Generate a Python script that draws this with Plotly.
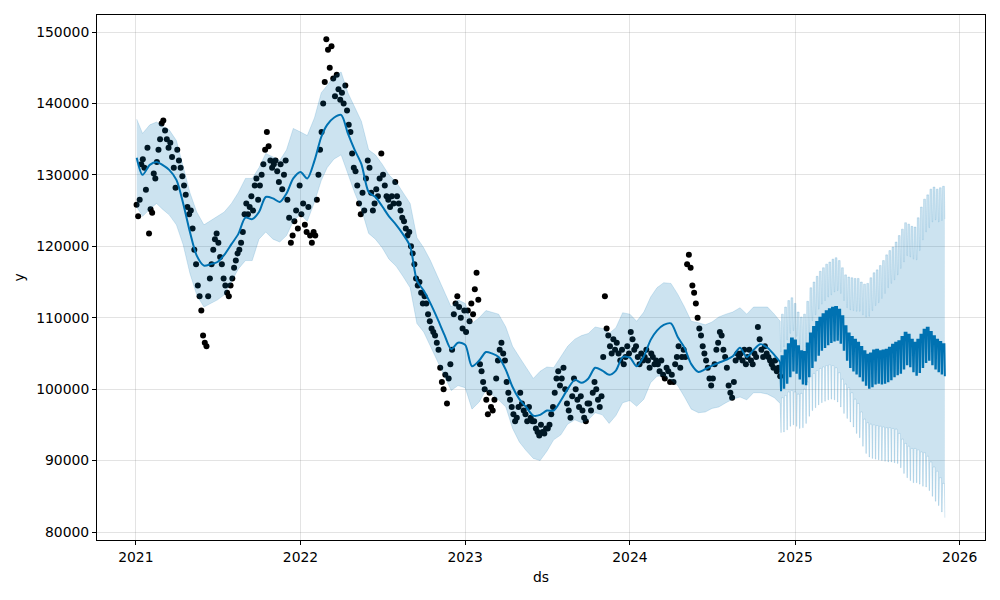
import pandas as pd
import plotly.graph_objects as go

# ---------------- observations (thousands), grouped by month ----------------
obs_2021 = [
    [125.8, 124.2, 126.5, 131.5, 132.2, 131.0, 127.9, 133.8, 121.8],
    [125.2, 124.7, 130.2, 129.5, 131.8, 133.5, 135.0, 137.2],
    [137.6, 136.2, 135.0, 133.8, 134.5, 132.5, 131.0, 128.2],
    [133.5, 132.0, 131.0, 129.8, 128.5, 127.2, 125.5, 124.5],
    [125.0, 122.5, 119.5, 117.5, 114.5, 113.0, 111.0, 107.5],
    [106.5, 106.0, 113.0, 115.5, 117.5, 119.5, 121.0, 121.8],
    [120.5, 118.5, 117.5, 115.5, 114.5, 113.5, 113.0, 114.5],
    [115.5, 117.0, 118.0, 119.0, 119.5, 120.5, 122.0, 124.5],
    [126.0, 124.5, 125.5, 127.0, 125.0, 128.5, 129.5, 126.5],
    [128.5, 130.0, 131.5, 133.5, 136.0, 134.0, 132.0, 131.0],
    [131.5, 132.0, 130.5, 129.0, 131.5, 128.0, 130.0, 132.0],
    [126.5, 124.0, 120.5, 121.5, 123.5, 125.0, 122.5, 128.5],
]
obs_2022 = [
    [124.5, 126.0, 123.0, 122.0, 125.5, 121.5, 120.5, 122.0],
    [121.5, 126.5, 130.0, 133.5, 136.0, 140.0, 143.0, 149.0],
    [147.5, 145.0, 148.0, 143.5, 141.0, 144.0, 142.0, 140.5],
    [141.5, 140.0, 142.5, 139.0, 137.0, 136.0, 133.0, 131.0],
    [130.5, 128.5, 126.0, 124.5, 127.5, 125.0, 129.5, 132.0],
    [131.0, 127.5, 125.0, 126.0, 128.0, 127.0, 129.5, 133.0],
    [130.0, 128.5, 127.0, 126.5, 125.5, 127.0, 126.0, 129.0],
    [127.0, 126.0, 125.0, 124.0, 123.5, 122.5, 121.5, 122.0],
    [120.0, 119.0, 117.5, 115.5, 114.5, 115.0, 113.5, 112.0],
    [113.0, 112.0, 110.5, 109.5, 108.5, 108.0, 107.5, 106.5],
    [105.5, 103.0, 101.0, 100.0, 102.0, 98.0, 101.5, 103.5],
    [105.5, 110.5, 112.0, 113.0, 111.5, 110.0, 108.5, 111.0],
]
obs_2023 = [
    [108.0, 111.0, 109.5, 112.0, 110.5, 114.0, 116.3, 112.5],
    [103.5, 102.5, 101.0, 100.0, 98.5, 96.5, 99.5, 97.5],
    [97.0, 98.5, 101.5, 104.0, 105.5, 106.5, 105.0, 104.0],
    [101.0, 99.5, 98.5, 97.5, 96.5, 95.5, 96.0, 97.5],
    [99.5, 98.0, 97.0, 96.5, 95.5, 97.5, 96.0, 95.5],
    [95.5, 94.5, 94.0, 93.5, 95.0, 94.0, 93.8, 94.5],
    [94.5, 95.0, 96.5, 97.5, 99.5, 101.5, 102.5, 100.5],
    [101.5, 103.0, 100.0, 98.0, 97.0, 96.0, 99.0, 101.5],
    [100.0, 98.5, 97.5, 99.0, 97.0, 96.0, 95.5, 98.0],
    [98.0, 97.0, 99.5, 101.0, 100.0, 98.5, 97.5, 99.0],
    [104.5, 113.0, 108.5, 107.5, 106.0, 105.0, 107.0, 105.5],
    [106.5, 105.0, 104.0, 105.5, 103.5, 104.5, 106.0, 105.0],
]
obs_2024 = [
    [108.0, 107.0, 105.5, 106.0, 104.5, 103.5, 105.0, 104.0],
    [104.5, 105.5, 104.0, 103.0, 105.0, 104.5, 103.5, 104.0],
    [103.5, 102.5, 104.0, 102.0, 101.5, 103.0, 102.5, 101.0],
    [102.0, 101.0, 103.5, 104.5, 106.0, 103.0, 104.5, 105.5],
    [104.5, 117.5, 118.8, 117.0, 114.5, 113.5, 112.0, 110.0],
    [108.5, 107.5, 106.0, 105.0, 104.0, 103.0, 101.5, 100.5],
    [101.5, 103.5, 105.5, 106.5, 108.0, 107.5, 105.5, 104.5],
    [103.0, 100.5, 99.5, 98.8, 101.0, 104.0, 105.0, 104.5],
    [105.0, 104.0, 105.5, 103.5, 104.5, 105.5, 104.0, 103.5],
    [105.0, 104.5, 108.7, 107.0, 105.5, 104.5, 106.0, 105.0],
    [104.5, 104.0, 103.5, 103.0, 104.0, 102.5, 103.0, 101.8],
]

# ---------------- fitted values over history (1st & 16th of each month) -----
hist_yhat_k = [
    132.4, 130.0, 131.4, 131.8, 131.4, 130.7, 129.3, 126.0, 122.0, 118.7, 117.3, 117.5,
    117.8, 118.8, 120.3, 121.7, 124.0, 123.8, 124.8, 126.9, 126.7, 126.2, 127.4, 129.5,
    130.4, 129.5, 132.0, 135.3, 137.0, 138.0, 138.4, 135.8, 133.5, 131.5, 127.6, 126.9,
    125.6, 124.2, 123.0, 121.7, 120.0, 115.2, 113.8, 112.0, 109.8, 107.6, 105.6, 106.5,
    106.2, 103.2, 104.0, 105.2, 105.0, 104.5, 102.7, 100.3, 98.6, 97.5, 96.3, 96.4,
    97.0, 97.0, 98.4, 100.0, 101.3, 100.9, 101.5, 103.0, 102.6, 102.0, 102.6, 104.5,
    104.4, 103.2, 104.6, 106.9, 108.2, 109.0, 109.2, 107.3, 105.8, 103.5, 102.4, 102.8,
    103.3, 103.7, 104.1, 104.6, 105.8, 104.5, 105.5, 106.3, 105.8, 104.8, 103.8,
]
hist_upper_k = [
    137.8, 135.8, 137.0, 137.4, 136.8, 136.3, 134.8, 131.3, 127.5, 124.8, 123.0, 123.6,
    124.2, 124.8, 126.0, 127.5, 129.5, 129.5, 131.0, 133.0, 132.5, 132.0, 133.5, 136.5,
    136.0, 135.5, 138.0, 141.5, 142.5, 143.8, 144.4, 141.5, 139.5, 137.5, 133.5, 132.8,
    131.5, 130.0, 129.0, 127.5, 126.0, 121.2, 119.8, 118.0, 115.8, 113.5, 111.5, 112.5,
    112.0, 109.2, 110.0, 111.0, 110.8, 110.5, 108.7, 106.0, 104.5, 103.0, 101.5, 102.5,
    103.1, 103.0, 104.5, 106.0, 107.0, 107.5, 107.8, 108.7, 108.5, 107.8, 108.6, 110.7,
    110.5, 109.5, 110.8, 112.9, 114.2, 114.9, 114.8, 113.3, 111.5, 109.5, 109.3, 109.0,
    109.4, 110.1, 110.5, 110.8, 111.4, 110.5, 111.5, 111.5, 111.5, 110.5, 109.5,
]
hist_lower_k = [
    125.5, 124.2, 125.2, 126.0, 125.2, 124.4, 123.0, 120.2, 116.2, 113.2, 111.5, 112.0,
    112.5, 113.2, 115.0, 116.8, 118.0, 118.0, 121.0, 122.0, 121.0, 120.6, 121.5, 123.5,
    124.5, 123.5, 126.2, 129.2, 131.0, 132.2, 132.8, 130.0, 127.5, 125.2, 121.8, 121.0,
    119.8, 118.2, 117.2, 115.8, 114.2, 109.2, 108.0, 106.0, 103.8, 101.8, 99.8, 100.5,
    100.2, 97.2, 98.2, 99.9, 99.2, 98.5, 97.5, 94.5, 92.6, 91.4, 90.3, 90.0,
    91.3, 92.9, 93.6, 95.1, 95.7, 95.3, 95.7, 96.7, 96.4, 95.2, 96.3, 98.1,
    98.4, 97.6, 98.6, 100.9, 101.8, 101.9, 101.3, 100.5, 98.9, 97.2, 96.7, 96.8,
    97.3, 97.5, 98.1, 98.6, 98.9, 98.5, 99.5, 99.5, 99.3, 98.8, 98.0,
]

# ---------------- forecast, one value per week (weekday / weekend) ----------
fc_yhat_weekday_k = [
    104.0, 104.6, 105.4, 106.3, 107.1, 106.8, 106.0, 105.3, 105.2, 106.4, 107.8, 108.7,
    109.4, 110.0, 110.5, 110.9, 111.2, 111.4, 111.5, 111.1, 110.2, 108.8, 107.8, 107.3,
    106.9, 106.5, 105.9, 105.3, 104.8, 105.0, 105.4, 105.5, 105.3, 105.4, 105.5, 105.8,
    106.2, 106.5, 106.7, 107.3, 107.9, 107.6, 106.9, 106.5, 106.9, 107.6, 108.3, 108.6,
    108.0, 107.4, 106.9, 106.6, 106.3,
]
fc_yhat_weekend_k = [
    99.7, 100.2, 100.9, 101.8, 102.6, 102.3, 101.5, 100.8, 100.7, 101.8, 103.1, 104.0,
    104.8, 105.5, 105.9, 106.3, 106.6, 106.8, 106.9, 106.5, 105.5, 104.1, 103.1, 102.6,
    102.2, 101.8, 101.2, 100.6, 100.2, 100.4, 100.8, 100.9, 100.8, 100.9, 101.1, 101.4,
    101.8, 102.1, 102.3, 102.9, 103.5, 103.2, 102.5, 102.0, 102.4, 103.1, 103.8, 104.1,
    103.5, 102.9, 102.5, 102.2, 101.8,
]
fc_upper_weekday_k = [
    109.8, 110.5, 111.5, 112.4, 112.8, 112.0, 110.8, 110.1, 110.5, 112.3, 114.2, 115.0,
    115.8, 116.5, 117.0, 117.5, 117.8, 118.2, 118.4, 118.0, 117.0, 116.0, 115.7, 115.6,
    115.5, 115.5, 115.0, 114.7, 114.8, 115.6, 116.3, 116.7, 117.3, 118.0, 118.8, 119.4,
    119.9, 120.6, 121.5, 122.4, 123.3, 123.1, 122.8, 122.7, 124.0, 125.5, 126.6, 127.2,
    128.0, 128.3, 128.0, 128.2, 128.4,
]
fc_upper_weekend_k = [
    105.2, 105.9, 106.9, 107.8, 108.2, 107.4, 106.2, 105.5, 105.9, 107.7, 109.6, 110.4,
    111.2, 111.9, 112.4, 112.9, 113.2, 113.6, 113.8, 113.4, 112.4, 111.4, 111.1, 111.0,
    110.9, 110.9, 110.4, 110.1, 110.2, 111.0, 111.7, 112.1, 112.7, 113.4, 114.2, 114.8,
    115.3, 116.0, 116.9, 117.8, 118.7, 118.5, 118.2, 118.1, 119.4, 120.9, 122.0, 122.6,
    123.4, 123.7, 123.4, 123.6, 123.8,
]
fc_lower_weekday_k = [
    98.7, 98.8, 99.1, 99.6, 99.8, 99.6, 99.3, 99.4, 100.0, 101.0, 101.8, 102.2,
    102.6, 102.9, 103.1, 103.3, 103.4, 103.3, 103.0, 102.3, 101.4, 100.7, 100.2, 99.5,
    98.6, 98.0, 96.8, 95.8, 95.3, 95.1, 95.0, 94.9, 94.8, 94.7, 94.6, 94.6,
    94.5, 94.4, 93.8, 93.0, 92.4, 92.0, 91.7, 91.7, 91.5, 91.2, 91.1, 90.6,
    89.8, 89.1, 88.5, 87.6, 86.8,
]
fc_lower_weekend_k = [
    93.9, 94.0, 94.3, 94.8, 95.0, 94.8, 94.5, 94.6, 95.2, 96.2, 97.0, 97.4,
    97.8, 98.1, 98.3, 98.5, 98.6, 98.5, 98.2, 97.5, 96.6, 95.9, 95.4, 94.7,
    93.8, 93.2, 92.0, 91.0, 90.5, 90.3, 90.2, 90.1, 90.0, 89.9, 89.8, 89.8,
    89.7, 89.6, 89.0, 88.2, 87.6, 87.2, 86.9, 86.9, 86.7, 86.4, 86.3, 85.8,
    85.0, 84.3, 83.7, 82.8, 82.0,
]

year_ticks = ["2021", "2022", "2023", "2024", "2025", "2026"]
y_ticks = [80000, 90000, 100000, 110000, 120000, 130000, 140000, 150000]

# ---------------- build series ----------------
months = pd.period_range("2021-01", "2024-11", freq="M")
obs_all = obs_2021 + obs_2022 + obs_2023 + obs_2024
obs_x, obs_y = [], []
for per, vals in zip(months, obs_all):
    start = per.start_time
    nd = per.days_in_month
    n = len(vals)
    for i, v in enumerate(vals):
        obs_x.append(start + pd.Timedelta(days=(i + 0.5) * nd / n))
        obs_y.append(v * 1000)

hist_x = []
for per in months:
    hist_x.append(per.start_time)
    hist_x.append(per.start_time + pd.Timedelta(days=15))
hist_x[0] = pd.Timestamp("2021-01-03")
hist_x.append(pd.Timestamp("2024-11-29"))
assert len(hist_x) == len(hist_yhat_k) == len(hist_upper_k) == len(hist_lower_k)

fc_days = pd.date_range("2024-11-30", "2025-11-29", freq="D")
week0 = pd.Timestamp("2024-11-25")
fc_yhat, fc_up, fc_lo = [], [], []
for d in fc_days:
    w = (d - week0).days // 7
    we = d.weekday() >= 5
    fc_yhat.append((fc_yhat_weekend_k if we else fc_yhat_weekday_k)[w] * 1000)
    fc_up.append((fc_upper_weekend_k if we else fc_upper_weekday_k)[w] * 1000)
    fc_lo.append((fc_lower_weekend_k if we else fc_lower_weekday_k)[w] * 1000)

band_x = list(hist_x) + list(fc_days)
band_up = [v * 1000 for v in hist_upper_k] + fc_up
band_lo = [v * 1000 for v in hist_lower_k] + fc_lo

fig = go.Figure()
fig.add_trace(go.Scatter(x=obs_x, y=obs_y, mode="markers",
                         marker=dict(color="black", size=6, line=dict(width=0)),
                         showlegend=False, hoverinfo="skip"))
fig.add_trace(go.Scatter(x=hist_x, y=[v * 1000 for v in hist_yhat_k], mode="lines",
                         line=dict(color="#0072B2", width=2, shape="spline", smoothing=0.8),
                         showlegend=False, hoverinfo="skip"))
fig.add_trace(go.Scatter(x=[hist_x[-1]] + list(fc_days), y=[hist_yhat_k[-1] * 1000] + fc_yhat,
                         mode="lines", line=dict(color="#0072B2", width=2),
                         showlegend=False, hoverinfo="skip"))
fig.add_trace(go.Scatter(x=band_x, y=band_lo, mode="lines",
                         line=dict(color="rgba(0,114,178,0.2)", width=0.8),
                         showlegend=False, hoverinfo="skip"))
fig.add_trace(go.Scatter(x=band_x, y=band_up, mode="lines", fill="tonexty",
                         fillcolor="rgba(0,114,178,0.2)",
                         line=dict(color="rgba(0,114,178,0.2)", width=0.8),
                         showlegend=False, hoverinfo="skip"))

axis_common = dict(showline=True, mirror=True, linecolor="black", linewidth=1,
                   ticks="outside", ticklen=4, tickwidth=1, tickcolor="black",
                   showgrid=True, gridcolor="rgba(128,128,128,0.22)", gridwidth=1,
                   zeroline=False, tickfont=dict(size=13.9, color="black"))

fig.update_layout(
    width=1000, height=600, autosize=False,
    margin=dict(l=97, r=15, t=15, b=60),
    paper_bgcolor="white", plot_bgcolor="white",
    font=dict(family="DejaVu Sans", size=13.9, color="black"),
    xaxis=dict(type="date", range=["2020-10-07", "2026-02-26"],
               tickvals=[pd.Timestamp(f"{y}-01-01") for y in year_ticks],
               ticktext=year_ticks,
               title=dict(text="ds", standoff=8, font=dict(size=13.9)),
               **axis_common),
    yaxis=dict(range=[78880, 152380], tickvals=y_ticks,
               ticktext=[str(v) for v in y_ticks],
               title=dict(text="y", standoff=8, font=dict(size=13.9)),
               **axis_common),
)

fig.write_html("out.html")
